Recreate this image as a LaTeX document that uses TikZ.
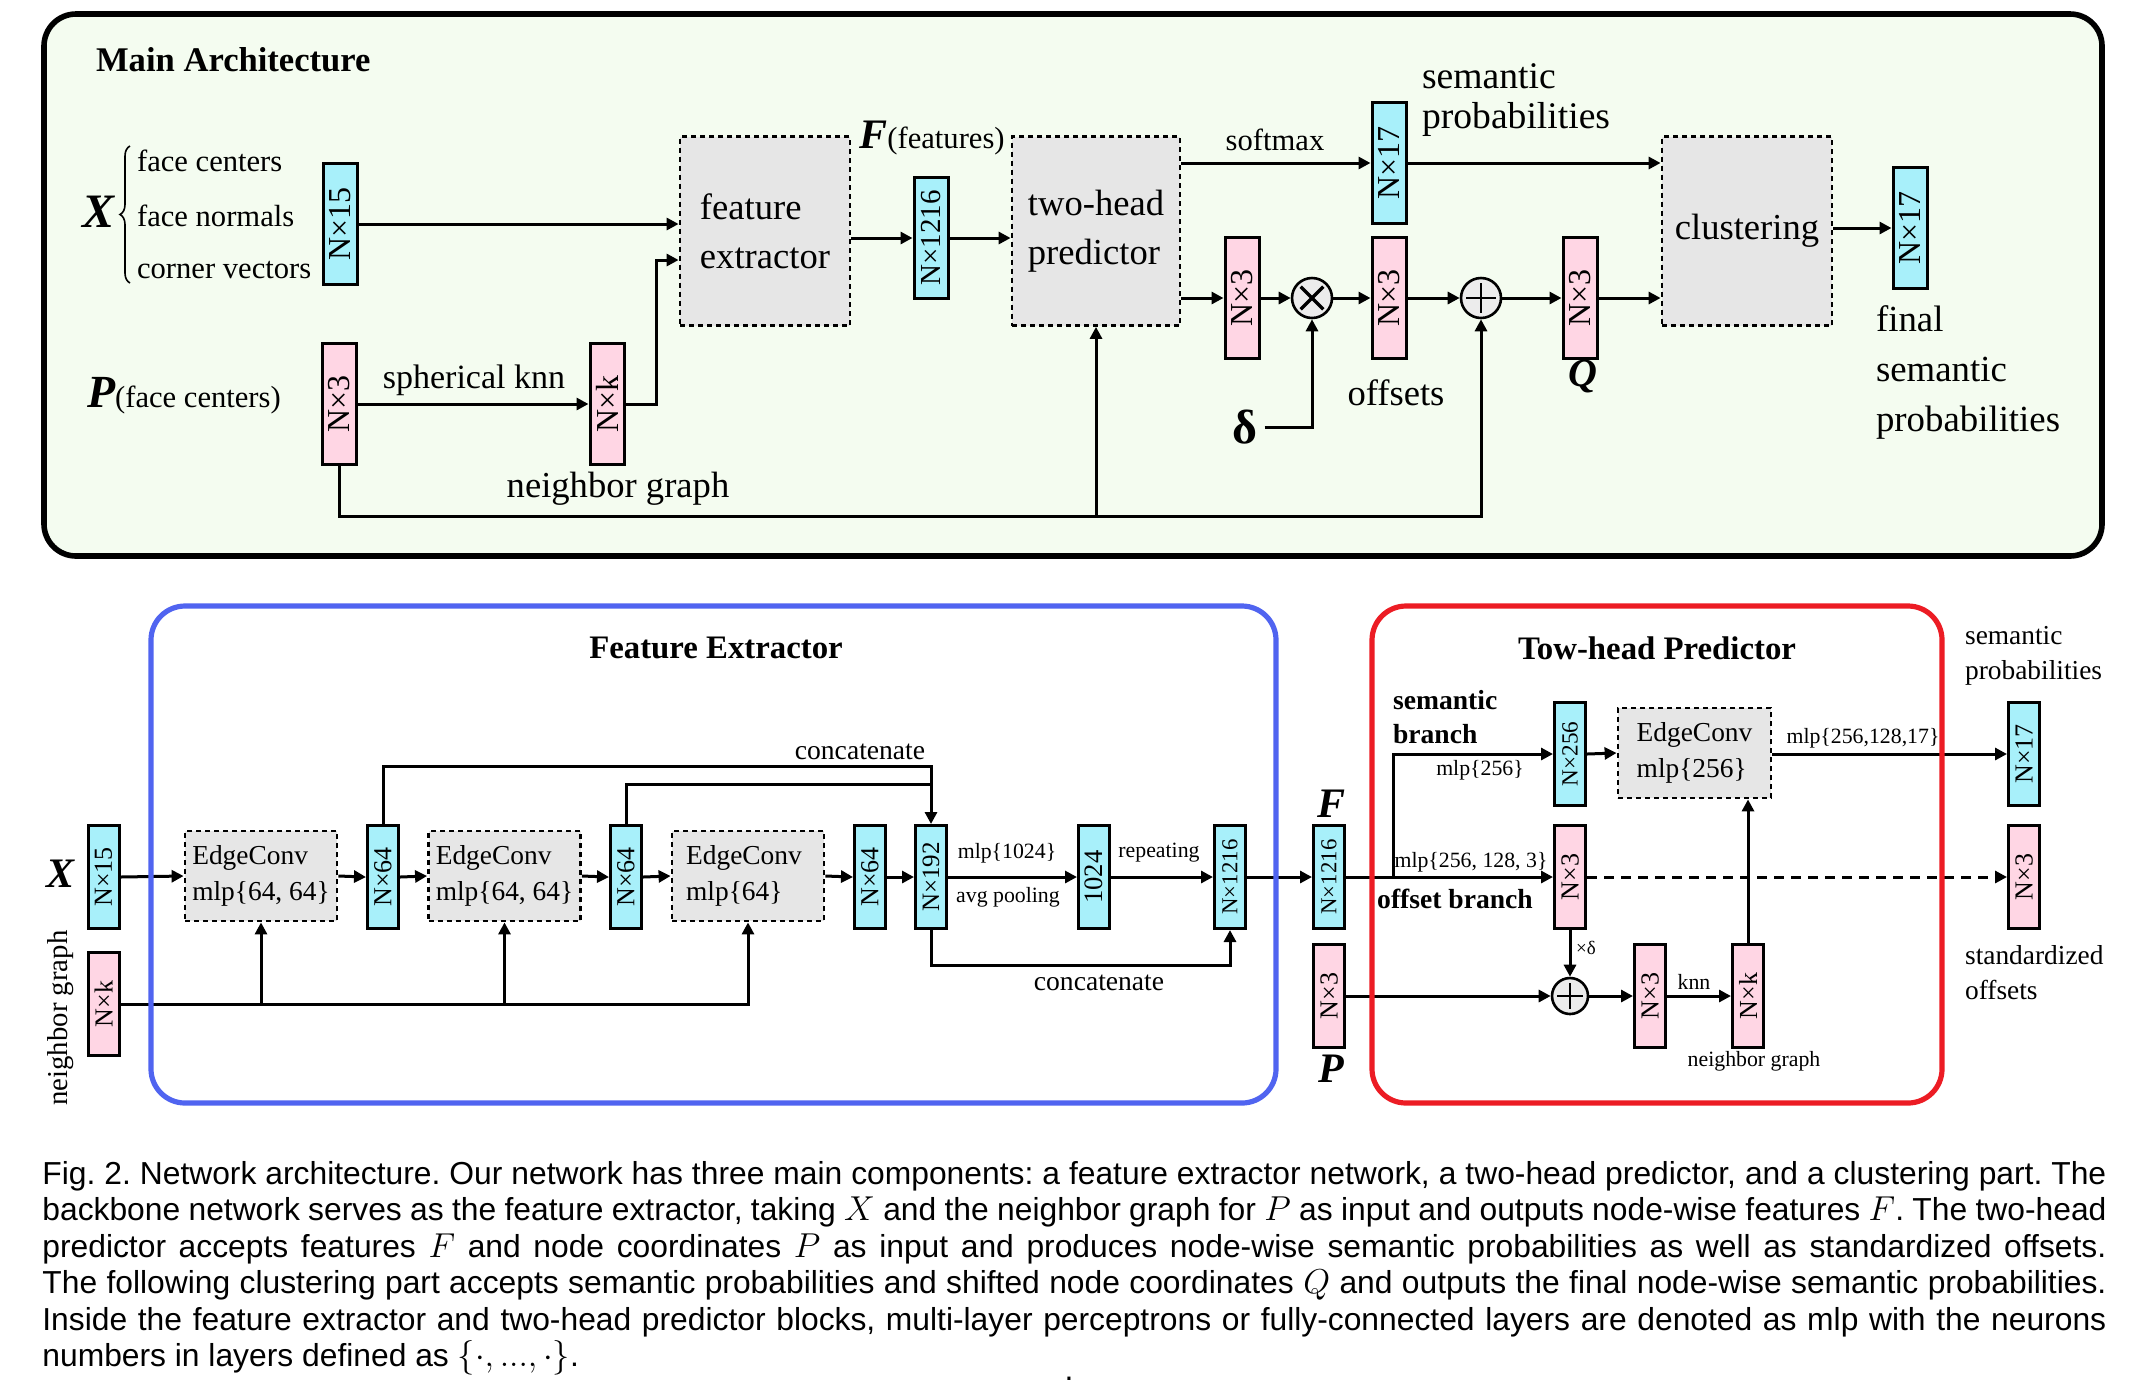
\documentclass[tikz,border=0pt]{standalone}
\usepackage{fontspec}
\setmainfont{Liberation Serif}
\newfontfamily\capfont{Liberation Sans}
\usetikzlibrary{arrows.meta,decorations.pathreplacing,calc}
\definecolor{cyanbox}{RGB}{168,240,250}
\definecolor{pinkbox}{RGB}{255,214,228}
\definecolor{graybox}{RGB}{230,230,230}
\definecolor{opfill}{RGB}{236,236,236}
\definecolor{panelbg}{RGB}{244,252,240}
\definecolor{fxblue}{RGB}{80,100,240}
\definecolor{tpred}{RGB}{236,28,36}
\newcommand\vlab[1]{\rotatebox{90}{#1}}
\newcommand\szBig{\fontsize{18.3}{24.5}\selectfont}
\newcommand\szFace{\fontsize{15.3}{19}\selectfont}
\newcommand\szTitle{\fontsize{17.3}{20}\selectfont\bfseries}
\newcommand\szSubT{\fontsize{16.4}{20}\selectfont\bfseries}
\newcommand\szLab{\fontsize{13.7}{18}\selectfont}
\newcommand\szSmall{\fontsize{10.9}{13}\selectfont}
\newcommand\szTopBox{\fontsize{16}{16}\selectfont}
\newcommand\szBotBox{\fontsize{13}{13}\selectfont}
\newcommand\capline[1]{\makebox[1032pt][s]{#1}}
\begin{document}
\begin{tikzpicture}[x=0.5pt,y=-0.5pt,
  tbox/.style={draw, line width=1.5pt, inner sep=0pt},
  topsz/.style={minimum width=17pt, minimum height=60.5pt, font=\szTopBox},
  botsz/.style={minimum width=15.5pt, minimum height=51.5pt, font=\szBotBox},
  cy/.style={fill=cyanbox}, pk/.style={fill=pinkbox},
  dbox/.style={draw, line width=1.4pt, dash pattern=on 2.5pt off 2pt, fill=graybox, inner sep=0pt},
  arr/.style={line width=1.5pt, -{Triangle[length=6pt,width=6pt]}},
  ln/.style={line width=1.5pt},
  opnode/.style={circle, draw, line width=1.3pt, fill=opfill, inner sep=0pt},
  otimesmark/.style={path picture={\draw[line width=1.7pt] (path picture bounding box.center) +(45:#1) -- +(225:#1) +(135:#1) -- +(315:#1);}},
  oplusmark/.style={path picture={\draw[line width=1.4pt] (path picture bounding box.center) +(0:#1) -- +(180:#1) +(90:#1) -- +(270:#1);}}
]
\useasboundingbox (0,0) rectangle (2140,1388);

% ================= Main architecture =================
\draw[line width=2.8pt, rounded corners=16pt, fill=panelbg] (44,14) rectangle (2102,556);
\node[anchor=west, font=\szTitle] (mainT) at (89,60) {Main Architecture};

\node[font=\fontsize{24}{24}\selectfont\bfseries\itshape] (Xt) at (99,212) {X};
\draw[decorate, decoration={brace, amplitude=5pt}, line width=0.8pt] (130,283) -- (130,146);
\node[anchor=west, font=\szFace] (fc) at (130,161) {face centers};
\node[anchor=west, font=\szFace] (fn) at (130,216) {face normals};
\node[anchor=west, font=\szFace] (cv) at (130,270) {corner vectors};
\node[tbox, topsz, cy] (n15t) at (340,224) {\vlab{N×15}};

\node[anchor=west, font=\szFace] (Plab) at (80,396) {{\fontsize{23}{23}\selectfont\bfseries\itshape P}(face centers)};
\node[tbox, topsz, pk] (n3p) at (339,404) {\vlab{N×3}};
\node[tbox, topsz, pk] (nkt) at (607,404) {\vlab{N×k}};
\node[font=\fontsize{17}{20}\selectfont] (skn) at (474,380) {spherical knn};
\node[font=\szBig] (ngt) at (618,489) {neighbor graph};

\node[dbox, minimum width=85pt, minimum height=94.5pt, align=left, font=\szBig] (fe) at (765,231) {feature\\extractor};
\node[font=\szFace] (Flab) at (932,138) {{\fontsize{21}{21}\selectfont\bfseries\itshape F}(features)};
\node[tbox, topsz, cy, font=\fontsize{14.5}{14.5}\selectfont] (n1216t) at (931,238) {\vlab{N×1216}};
\node[dbox, minimum width=84pt, minimum height=94.5pt, align=left, font=\szBig] (tp) at (1096,231) {two-head\\predictor};

\node[font=\szFace] (smx) at (1275,140) {softmax};
\node[tbox, topsz, cy] (n17t) at (1389,163) {\vlab{N×17}};
\node[anchor=west, align=left, font=\fontsize{18.8}{20}\selectfont] (spt) at (1415,100) {semantic\\probabilities};

\node[tbox, topsz, pk] (n3a) at (1242,298) {\vlab{N×3}};
\node[opnode, otimesmark=8pt, minimum size=20pt] (otm) at (1312,298) {};
\node[tbox, topsz, pk] (n3b) at (1389,298) {\vlab{N×3}};
\node[font=\szBig] (offl) at (1396,393) {offsets};
\node[opnode, oplusmark=7.5pt, minimum size=20pt] (opl) at (1481,298) {};
\node[tbox, topsz, pk] (n3q) at (1580,298) {\vlab{N×3}};
\node[font=\fontsize{20}{20}\selectfont\bfseries\itshape] (Ql) at (1583,376) {Q};
\node[font=\fontsize{24}{24}\selectfont\bfseries] (dl) at (1245,427) {δ};

\node[dbox, minimum width=85pt, minimum height=94.5pt, font=\szBig] (clu) at (1747,231) {clustering};
\node[tbox, topsz, cy] (n17f) at (1910,228) {\vlab{N×17}};
\node[anchor=west, align=left, font=\fontsize{18.4}{25}\selectfont] (fsp) at (1869,372) {final\\semantic\\probabilities};

\coordinate (botL) at (339,516);

\draw[arr] (n15t.east) -- (n15t.east -| fe.west);
\draw[arr] (n3p.east) -- (nkt.west);
\draw[arr] (nkt.east) -- ++(31,0) |- ($(fe.west)+(0,29)$);
\draw[arr] (fe.east |- n1216t) -- (n1216t.west);
\draw[arr] (n1216t.east) -- (n1216t.east -| tp.west);
\draw[arr] (tp.east |- n17t) -- (n17t.west);
\draw[arr] (n17t.east) -- (n17t.east -| clu.west);
\draw[arr] (clu.east |- n17f) -- (n17f.west);
\draw[arr] (tp.east |- n3a) -- (n3a.west);
\draw[arr] (n3a.east) -- (otm.west);
\draw[arr] (otm.east) -- (n3b.west);
\draw[arr] (n3b.east) -- (opl.west);
\draw[arr] (opl.east) -- (n3q.west);
\draw[arr] (n3q.east) -- (n3q.east -| clu.west);
\draw[arr] (dl.east) -| (otm.south);
\draw[arr] (n3p.south) -- (botL) -| (opl.south);
\draw[arr] (tp.south |- botL) -- (tp.south);

% ================= Feature extractor =================
\node[font=\szSubT] (fxT) at (716,648) {Feature Extractor};
\node[font=\fontsize{21}{21}\selectfont\bfseries\itshape] (Xb) at (61,874) {X};
\node[rotate=90, font=\fontsize{14.4}{14.4}\selectfont] (ngl) at (61,1018) {neighbor graph};
\node[tbox, botsz, cy] (n15b) at (103.5,877) {\vlab{N×15}};
\node[tbox, botsz, pk] (nkb) at (103.5,1004) {\vlab{N×k}};
\node[dbox, minimum width=76pt, minimum height=45pt, align=left, font=\szLab] (ec1) at (261,876) {EdgeConv\\mlp\{64, 64\}};
\node[tbox, botsz, cy] (n64a) at (383,877) {\vlab{N×64}};
\node[dbox, minimum width=76pt, minimum height=45pt, align=left, font=\szLab] (ec2) at (504.5,876) {EdgeConv\\mlp\{64, 64\}};
\node[tbox, botsz, cy] (n64b) at (626,877) {\vlab{N×64}};
\node[dbox, minimum width=76pt, minimum height=45pt, align=left, font=\szLab] (ec3) at (748,876) {EdgeConv\\mlp\{64\}\phantom{, 6}};
\node[tbox, botsz, cy] (n64c) at (870,877) {\vlab{N×64}};
\node[tbox, botsz, cy, font=\fontsize{12.5}{12.5}\selectfont] (n192) at (931,877) {\vlab{N×192}};
\node[tbox, botsz, cy, font=\fontsize{13.3}{13.3}\selectfont] (n1024) at (1094,877) {\vlab{1024}};
\node[tbox, botsz, cy, font=\fontsize{11.4}{11.4}\selectfont] (n1216b) at (1230,877) {\vlab{N×1216}};
\node[font=\fontsize{13.8}{16}\selectfont] (cat1) at (860,752) {concatenate};
\node[font=\fontsize{13.8}{16}\selectfont] (cat2) at (1099,983) {concatenate};
\node[font=\szSmall] (mlp1024) at (1007,853) {mlp\{1024\}};
\node[font=\szSmall] (avgp) at (1008,897) {avg pooling};
\node[font=\szSmall] (rep) at (1159,853) {repeating};

\draw[arr] (n15b.east) -- (ec1.west);
\draw[arr] (ec1.east) -- (n64a.west);
\draw[arr] (n64a.east) -- (ec2.west);
\draw[arr] (ec2.east) -- (n64b.west);
\draw[arr] (n64b.east) -- (ec3.west);
\draw[arr] (ec3.east) -- (n64c.west);
\draw[arr] (n64c.east) -- (n192.west);
\draw[arr] (n192.east) -- (n1024.west);
\draw[arr] (n1024.east) -- (n1216b.west);
\draw[arr] (n64a.north) -- ++(0,-58) -| (n192.north);
\draw[ln] (n64b.north) -- ++(0,-40) -- ($(n192.north)+(0,-40)$);
\draw[arr] (n192.south) -- ++(0,35) -| (n1216b.south);
\draw[arr] (nkb.east) -| (ec3.south);
\draw[arr] (ec1.south |- nkb.east) -- (ec1.south);
\draw[arr] (ec2.south |- nkb.east) -- (ec2.south);

% ================= Two-head predictor =================
\node[font=\szSubT] (tpT) at (1657,648) {Tow-head Predictor};
\node[font=\fontsize{21}{21}\selectfont\bfseries\itshape] (Fb) at (1331,804) {F};
\node[font=\fontsize{21}{21}\selectfont\bfseries\itshape] (Pb) at (1331,1069) {P};
\node[tbox, botsz, cy, font=\fontsize{11.4}{11.4}\selectfont] (fn1216) at (1329,877) {\vlab{N×1216}};
\node[tbox, botsz, pk] (pn3) at (1329,996) {\vlab{N×3}};
\node[anchor=west, align=left, font=\fontsize{13.8}{17}\selectfont\bfseries] (sbr) at (1386,717) {semantic\\branch};
\node[font=\fontsize{13.8}{17}\selectfont\bfseries] (obr) at (1455,899) {offset branch};
\node[font=\szSmall] (m256) at (1480,770) {mlp\{256\}};
\node[font=\szSmall] (m2563) at (1471,862) {mlp\{256, 128, 3\}};
\node[tbox, botsz, cy, font=\fontsize{11.6}{11.6}\selectfont] (n256) at (1570,754) {\vlab{N×256}};
\node[tbox, botsz, pk] (n3o) at (1570,877) {\vlab{N×3}};
\node[dbox, minimum width=76.5pt, minimum height=45pt, align=left, font=\szLab] (ec4) at (1694.5,753) {EdgeConv\\mlp\{256\}};
\node[font=\szSmall] (m17) at (1863,738) {mlp\{256,128,17\}};
\node[opnode, oplusmark=6.5pt, minimum size=18pt] (oplb) at (1570,996) {};
\node[font=\fontsize{9.5}{10}\selectfont] (xdl) at (1586,948) {×δ};
\node[tbox, botsz, pk] (n3c) at (1650,996) {\vlab{N×3}};
\node[font=\szSmall] (knn) at (1694,982) {knn};
\node[tbox, botsz, pk] (nkc) at (1748,996) {\vlab{N×k}};
\node[font=\szSmall] (ngs) at (1754,1061) {neighbor graph};
\node[tbox, botsz, cy] (n17b) at (2024,754) {\vlab{N×17}};
\node[tbox, botsz, pk] (n3s) at (2024,877) {\vlab{N×3}};
\node[anchor=west, align=left, font=\fontsize{13.7}{17.5}\selectfont] (spb) at (1958,656) {semantic\\probabilities};
\node[anchor=west, align=left, font=\fontsize{13.7}{17.5}\selectfont] (sof) at (1958,973) {standardized\\offsets};

\draw[arr] (n1216b.east) -- (fn1216.west);
\draw[arr] (fn1216.east) -- (n3o.west);
\draw[arr] ($(fn1216.east)+(47,0)$) |- (n256.west);
\draw[arr] (n256.east) -- (ec4.west);
\draw[arr] (ec4.east |- n17b) -- (n17b.west);
\draw[arr, dash pattern=on 5pt off 3.5pt] (n3o.east) -- (n3s.west);
\draw[arr] (n3o.south) -- (oplb.north);
\draw[arr] (pn3.east) -- (oplb.west);
\draw[arr] (oplb.east) -- (n3c.west);
\draw[arr] (n3c.east) -- (nkc.west);
\draw[arr] (nkc.north) -- (nkc.north |- ec4.south);

% frames on top
\draw[fxblue, line width=2.6pt, rounded corners=17pt] (151,606) rectangle (1276,1103);
\draw[tpred, line width=2.6pt, rounded corners=17pt] (1372,606) rectangle (1942,1103);

% ================= Caption =================
\node[anchor=north west, inner sep=0pt, align=left,
      font=\capfont\fontsize{15.9}{18.2}\selectfont\frenchspacing] (cap) at (42,1161)
{\capline{Fig. 2. Network architecture. Our network has three main components: a feature extractor network, a two-head predictor, and a clustering part. The}\\
\capline{backbone network serves as the feature extractor, taking $X$ and the neighbor graph for $P$ as input and outputs node-wise features $F$. The two-head}\\
\capline{predictor accepts features $F$ and node coordinates $P$ as input and produces node-wise semantic probabilities as well as standardized offsets.}\\
\capline{The following clustering part accepts semantic probabilities and shifted node coordinates $Q$ and outputs the final node-wise semantic probabilities.}\\
\capline{Inside the feature extractor and two-head predictor blocks, multi-layer perceptrons or fully-connected layers are denoted as mlp with the neurons}\\
numbers in layers defined as $\{\cdot, ..., \cdot\}$.};
\node[anchor=base, inner sep=0pt, font=\capfont\fontsize{15.9}{18.2}\selectfont] (dot) at (1069,1380) {.};
\end{tikzpicture}
\end{document}
